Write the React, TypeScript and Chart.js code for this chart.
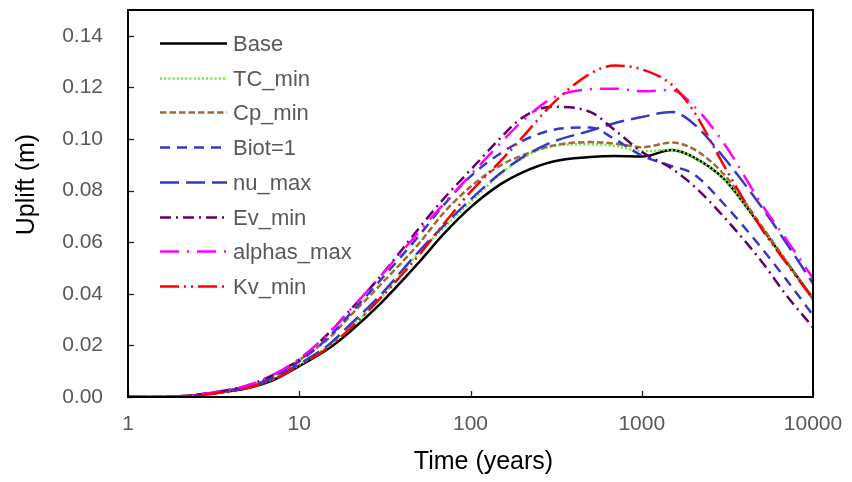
import React, { useEffect, useRef } from 'react';
import { Chart, registerables } from 'chart.js';

Chart.register(...registerables);

// ---------- data ----------
const timeYears = [1, 1.5, 2, 3, 5, 7, 10, 15, 20, 30, 50, 70, 100, 150, 200, 300, 500, 700, 1000, 1500, 2000, 3000, 5000, 7000, 10000];

const baseUplift = [0, 0, 0.0002, 0.0012, 0.0035, 0.0065, 0.012, 0.019, 0.0256, 0.0364, 0.0522, 0.0633, 0.0735, 0.0825, 0.087, 0.0912, 0.093, 0.0934, 0.0932, 0.0957, 0.093, 0.0847, 0.0657, 0.0523, 0.0383];
const tcMinUplift = [0, 0, 0.0002, 0.0013, 0.0037, 0.007, 0.0125, 0.02, 0.027, 0.0385, 0.056, 0.0656, 0.0755, 0.0865, 0.0925, 0.0972, 0.098, 0.0973, 0.0953, 0.0958, 0.093, 0.0847, 0.0657, 0.0523, 0.0383];
const cpMinUplift = [0, 0, 0.0002, 0.0014, 0.004, 0.0078, 0.0143, 0.023, 0.0317, 0.0437, 0.0595, 0.0715, 0.0815, 0.0898, 0.0936, 0.0974, 0.0988, 0.0982, 0.0968, 0.0986, 0.0962, 0.0865, 0.0663, 0.0526, 0.0378];
const biotUplift = [0, 0, 0.0002, 0.0015, 0.0042, 0.008, 0.0138, 0.0235, 0.0325, 0.0455, 0.0625, 0.0745, 0.0855, 0.0945, 0.0992, 0.1035, 0.1045, 0.0998, 0.0936, 0.0895, 0.0865, 0.075, 0.0578, 0.0454, 0.0317];
const nuMaxUplift = [0, 0, 0.0002, 0.0013, 0.0037, 0.0072, 0.0128, 0.0205, 0.0283, 0.0397, 0.0565, 0.0665, 0.0765, 0.0868, 0.0928, 0.0988, 0.1032, 0.1062, 0.1085, 0.1105, 0.106, 0.093, 0.0737, 0.0596, 0.044];
const evMinUplift = [0, 0, 0.0003, 0.0016, 0.0045, 0.0085, 0.0145, 0.025, 0.034, 0.047, 0.0654, 0.077, 0.088, 0.1005, 0.1082, 0.1125, 0.1105, 0.1033, 0.095, 0.0885, 0.082, 0.07, 0.0526, 0.0394, 0.027];
const alphasMaxUplift = [0, 0, 0.0003, 0.0016, 0.0045, 0.0085, 0.0148, 0.025, 0.034, 0.047, 0.064, 0.075, 0.086, 0.0985, 0.1068, 0.1158, 0.1193, 0.1195, 0.1185, 0.119, 0.113, 0.0986, 0.0748, 0.061, 0.046];
const kvMinUplift = [0, 0, 0.0002, 0.0012, 0.0035, 0.0067, 0.0122, 0.0195, 0.0268, 0.0385, 0.055, 0.0672, 0.0795, 0.0915, 0.1005, 0.1135, 0.1253, 0.1285, 0.127, 0.121, 0.111, 0.09, 0.0653, 0.0518, 0.038];

const seriesNames = ['Base', 'TC_min', 'Cp_min', 'Biot=1', 'nu_max', 'Ev_min', 'alphas_max', 'Kv_min'];
const seriesValues = [baseUplift, tcMinUplift, cpMinUplift, biotUplift, nuMaxUplift, evMinUplift, alphasMaxUplift, kvMinUplift];

const xTickValues = [1, 10, 100, 1000, 10000];
const yTickValues = [0, 0.02, 0.04, 0.06, 0.08, 0.1, 0.12, 0.14];
const xTitle = 'Time (years)';
const yTitle = 'Uplift (m)';

// ---------- styles ----------
const seriesColors = ['#000000', '#66EE33', '#9C6B3C', '#3838C8', '#3838C8', '#660066', '#FF00FF', '#FF0000'];
const seriesDashes: number[][] = [
  [],
  [2, 2.2],
  [6.5, 3],
  [10, 7],
  [19, 7],
  [11, 5, 2, 5],
  [19, 8, 2, 8],
  [19, 5, 2, 5, 2, 5],
];
const FONT = "'Liberation Sans', Arial, Helvetica, sans-serif";

const decorPlugin = {
  id: 'decor',
  afterDatasetsDraw(chart: any) {
    const { ctx, chartArea } = chart;
    const { left, right, top, bottom } = chartArea;
    const x = chart.scales.x;
    const y = chart.scales.y;
    ctx.save();
    // inward tick marks
    ctx.strokeStyle = '#222';
    ctx.lineWidth = 1.3;
    ctx.setLineDash([]);
    y.ticks.forEach((t: any) => {
      const py = Math.round(y.getPixelForValue(t.value)) + 0.5;
      ctx.beginPath();
      ctx.moveTo(left, py);
      ctx.lineTo(left + 6, py);
      ctx.stroke();
    });
    x.ticks.forEach((t: any) => {
      const px = Math.round(x.getPixelForValue(t.value)) + 0.5;
      ctx.beginPath();
      ctx.moveTo(px, bottom);
      ctx.lineTo(px, bottom - 6);
      ctx.stroke();
    });
    // frame
    ctx.strokeStyle = '#000';
    ctx.lineWidth = 2;
    ctx.strokeRect(left, top, right - left, bottom - top);

    // legend
    const lx0 = left + 32;
    const lineLen = 67;
    const tx = left + 105;
    ctx.font = `22px ${FONT}`;
    ctx.textBaseline = 'middle';
    ctx.textAlign = 'left';
    chart.data.datasets.forEach((ds: any, i: number) => {
      const ry = Math.round(top + 33 + i * 34.7) + 0.5;
      ctx.beginPath();
      ctx.strokeStyle = ds.borderColor;
      ctx.lineWidth = ds.borderWidth;
      ctx.setLineDash(ds.borderDash || []);
      ctx.moveTo(lx0, ry);
      ctx.lineTo(lx0 + lineLen, ry);
      ctx.stroke();
      ctx.setLineDash([]);
      ctx.fillStyle = '#595959';
      ctx.fillText(ds.label, tx, ry + 1);
    });

    // axis titles
    ctx.fillStyle = '#000';
    ctx.font = `25px ${FONT}`;
    ctx.textAlign = 'center';
    ctx.textBaseline = 'middle';
    ctx.fillText(xTitle, (left + right) / 2 + 13, bottom + 65);
    ctx.save();
    ctx.translate(27, (top + bottom) / 2 - 19);
    ctx.rotate(-Math.PI / 2);
    ctx.fillText(yTitle, 0, 0);
    ctx.restore();
    ctx.restore();
  },
};

export default function App() {
  const canvasRef = useRef<HTMLCanvasElement | null>(null);

  useEffect(() => {
    if (!canvasRef.current) return;
    const datasets = seriesNames.map((name, i) => ({
      label: name,
      data: timeYears.map((t, j) => ({ x: t, y: seriesValues[i][j] })),
      borderColor: seriesColors[i],
      backgroundColor: seriesColors[i],
      borderWidth: 2.5,
      borderDash: seriesDashes[i],
      pointRadius: 0,
      fill: false,
      cubicInterpolationMode: 'monotone' as const,
      order: seriesNames.length - i,
    }));

    const chart = new Chart(canvasRef.current, {
      type: 'line',
      data: { datasets },
      options: {
        responsive: false,
        animation: false,
        layout: { padding: { top: 10, right: 39, bottom: 0, left: 0 } },
        plugins: {
          legend: { display: false },
          tooltip: { enabled: false },
        },
        scales: {
          x: {
            type: 'logarithmic',
            min: 1,
            max: 10000,
            grid: { display: false, drawTicks: false },
            border: { display: false },
            afterBuildTicks: (scale: any) => {
              scale.ticks = xTickValues.map((v) => ({ value: v }));
            },
            afterFit: (scale: any) => {
              scale.height = 85;
              scale.paddingLeft = 0;
              scale.paddingRight = 0;
            },
            ticks: {
              padding: 15,
              color: '#595959',
              font: { size: 21, family: FONT },
              autoSkip: false,
              maxRotation: 0,
              callback: (v: any) => String(v),
            },
          },
          y: {
            type: 'linear',
            min: 0,
            max: 0.15,
            grid: { display: false, drawTicks: false },
            border: { display: false },
            afterBuildTicks: (scale: any) => {
              scale.ticks = yTickValues.map((v) => ({ value: v }));
            },
            afterFit: (scale: any) => {
              scale.width = 128;
              scale.paddingTop = 0;
              scale.paddingBottom = 0;
            },
            ticks: {
              padding: 25,
              color: '#595959',
              font: { size: 21, family: FONT },
              callback: (v: any) => Number(v).toFixed(2),
            },
          },
        },
      },
      plugins: [decorPlugin],
    });
    return () => chart.destroy();
  }, []);

  return (
    <div style={{ position: 'absolute', left: 0, top: 0, width: 852, height: 482, background: '#fff' }}>
      <canvas ref={canvasRef} width={852} height={482} style={{ display: 'block' }} />
    </div>
  );
}
